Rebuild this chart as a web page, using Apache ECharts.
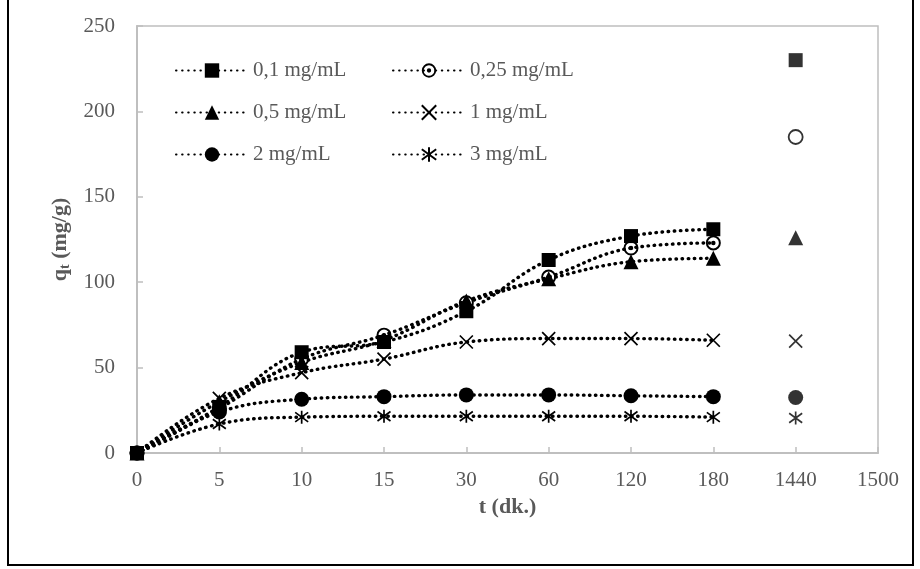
<!DOCTYPE html>
<html><head><meta charset="utf-8">
<script src="https://cdn.jsdelivr.net/npm/echarts@6/dist/echarts.min.js"></script>
<style>html,body{margin:0;padding:0;background:#fff}#c{width:920px;height:569px}</style>
</head><body><div id="c"></div>
<script>
var categories = ['0','5','10','15','30','60','120','180','1440','1500'];
var names = ['0,1 mg/mL','0,25 mg/mL','0,5 mg/mL','1 mg/mL','2 mg/mL','3 mg/mL'];
var s01  = [0, 27, 59, 65, 83, 113, 127, 131];
var s025 = [0, 26, 55, 69, 88, 103, 120, 123];
var s05  = [0, 30, 53, 66, 89, 102, 112, 114];
var s1   = [0, 32, 47, 55, 65, 67, 67, 66];
var s2   = [0, 24, 31.5, 33, 34, 34, 33.5, 33];
var s3   = [0, 17, 21, 21.5, 21.5, 21.5, 21.5, 21];
var at1440 = [230, 185, 126, 65.5, 32.5, 20.5];

var ringDot = 'path://M10,0A10,10 0 1,1 10,20A10,10 0 1,1 10,0ZM10,2.6A7.4,7.4 0 1,0 10,17.4A7.4,7.4 0 1,0 10,2.6ZM10,7A3,3 0 1,1 10,13A3,3 0 1,1 10,7Z';
var xPath = 'path://M0,0L10,10M10,0L0,10';
var starPath = 'path://M0,1L10,9M10,1L0,9M5,-0.5L5,10.5';
var FONT = '"Liberation Serif", "Times New Roman", serif';

var defs = [
  {data: s01,  symbol: 'rect', size: 14, fill: '#000', border: 0},
  {data: s025, symbol: ringDot, size: 15, fill: '#000', border: 0},
  {data: s05,  symbol: 'triangle', size: 15, fill: '#000', border: 0},
  {data: s1,   symbol: xPath, size: 13, fill: 'none', border: 1.7},
  {data: s2,   symbol: 'circle', size: 15, fill: '#000', border: 0},
  {data: s3,   symbol: starPath, size: 13, fill: 'none', border: 1.7}
];
var series = [];
defs.forEach(function(d, i){
  series.push({
    name: names[i], type: 'line', data: d.data, smooth: 0.4,
    symbol: d.symbol, symbolSize: d.size, showAllSymbol: true,
    lineStyle: {color: '#000', width: 3.4, type: [0.5, 5.6], cap: 'round'},
    itemStyle: {color: d.fill, borderColor: '#000', borderWidth: d.border},
    z: 3, animation: false
  });
  var sd = categories.map(function(){ return null; });
  sd[8] = at1440[i];
  var sym = d.symbol, fill = d.fill, bw = d.border;
  if (i === 1) { sym = 'circle'; fill = '#fff'; bw = 1.8; }
  series.push({
    name: names[i] + ' (1440)', type: 'scatter', data: sd,
    symbol: sym, symbolSize: (i === 1 ? 14 : d.size),
    itemStyle: {color: fill, borderColor: '#000', borderWidth: bw},
    z: 3, animation: false
  });
});

var chart = echarts.init(document.getElementById('c'));
var legendCommon = {
  orient: 'vertical', top: 55, itemWidth: 72, itemHeight: 18, itemGap: 21,
  textStyle: {fontFamily: FONT, fontSize: 21, color: '#595959'}
};
chart.setOption({
  backgroundColor: '#fff',
  animation: false,
  graphic: [{type: 'rect', shape: {x: 8, y: -5, width: 905, height: 570},
    style: {fill: 'none', stroke: '#000', lineWidth: 2}, z: -1}],
  legend: [
    Object.assign({left: 170, data: [names[0], names[2], names[4]]}, legendCommon),
    Object.assign({left: 387, data: [names[1], names[3], names[5]]}, legendCommon)
  ],
  grid: {left: 137, right: 42, top: 26, bottom: 116, show: true, borderColor: '#bfbfbf', borderWidth: 1.5, backgroundColor: 'transparent'},
  xAxis: {
    type: 'category', data: categories, boundaryGap: false,
    name: 't (dk.)', nameLocation: 'middle', nameGap: 32,
    nameTextStyle: {fontFamily: FONT, fontSize: 22, fontWeight: 'bold', color: '#595959'},
    axisLine: {lineStyle: {color: '#bfbfbf', width: 2}},
    axisTick: {show: true, inside: true, length: 6, alignWithLabel: true, lineStyle: {color: '#bfbfbf', width: 1.5}},
    axisLabel: {fontFamily: FONT, fontSize: 21, color: '#595959', margin: 17, interval: 0},
    splitLine: {show: false}
  },
  yAxis: {
    type: 'value', min: 0, max: 250, interval: 50,
    name: '{a|q}{b|t}{a| (mg/g)}', nameLocation: 'middle', nameGap: 44, nameRotate: 90,
    nameTextStyle: {rich: {
      a: {fontFamily: FONT, fontSize: 22, fontWeight: 'bold', color: '#595959'},
      b: {fontFamily: FONT, fontSize: 14, fontWeight: 'bold', color: '#595959', verticalAlign: 'bottom', padding: [10, 0, 0, 0]}
    }},
    axisLine: {show: true, lineStyle: {color: '#bfbfbf', width: 2}},
    axisTick: {show: true, inside: true, length: 6, lineStyle: {color: '#bfbfbf', width: 1.5}},
    axisLabel: {fontFamily: FONT, fontSize: 21, color: '#595959', margin: 22},
    splitLine: {show: false}
  },
  series: series
});
</script>
</body></html>
